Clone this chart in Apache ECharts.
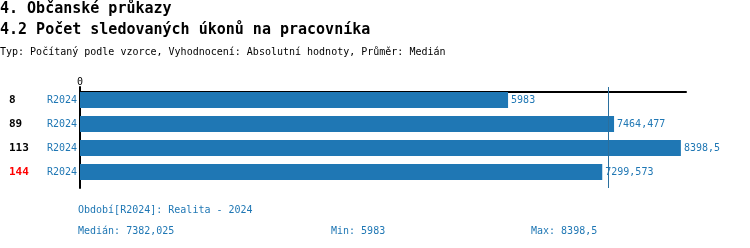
<!DOCTYPE html>
<html>
<head>
<meta charset="utf-8">
<script src="https://cdn.jsdelivr.net/npm/echarts@6/dist/echarts.min.js"></script>
<style>
html,body{margin:0;padding:0;background:#fff;}
#c{width:750px;height:248px;}
</style>
</head>
<body>
<div id="c"></div>
<script>
const titleMain = "4. Občanské průkazy";
const titleSub = "4.2 Počet sledovaných úkonů na pracovníka";
const typeLine = "Typ: Počítaný podle vzorce, Vyhodnocení: Absolutní hodnoty, Průměr: Medián";
const periodLine = "Období[R2024]: Realita - 2024";
const categories = ["8", "89", "113", "144"];
const periods = ["R2024", "R2024", "R2024", "R2024"];
const values = [5983, 7464.477, 8398.5, 7299.573];
const highlighted = ["144"];
const axisMax = 8470;

const FONT = '"DejaVu Sans Mono", monospace';
const BLUE = '#1f77b4';

function fmt(v) { return String(Math.round(v * 1000) / 1000).replace('.', ','); }
const sorted = values.slice().sort((a, b) => a - b);
const mid = sorted.length / 2;
const median = sorted.length % 2 ? sorted[Math.floor(mid)] : (sorted[mid - 1] + sorted[mid]) / 2;
const vMin = sorted[0], vMax = sorted[sorted.length - 1];

function txt(text, left, top, size, color, weight) {
  return {text: text, left: left, top: top, padding: 0,
    textStyle: {fontFamily: FONT, fontSize: size, fontWeight: weight || 'normal', color: color}};
}

const chart = echarts.init(document.getElementById('c'), null, {renderer: 'canvas'});
chart.setOption({
  animation: false,
  textStyle: {fontFamily: FONT},
  title: [
    txt(titleMain, 0, 2, 15, '#000', 'bold'),
    txt(titleSub, 0, 23, 15, '#000', 'bold'),
    txt(typeLine, 0, 47, 10, '#000'),
    txt(periodLine, 78, 205, 10, BLUE),
    txt('Medián: ' + fmt(median), 78, 226, 10, BLUE),
    txt('Min: ' + fmt(vMin), 331, 226, 10, BLUE),
    txt('Max: ' + fmt(vMax), 531, 226, 10, BLUE)
  ],
  grid: [
    {left: 80, top: 88, width: 606, height: 96, containLabel: false},
    {left: 80, top: 87, width: 606, height: 101, containLabel: false}
  ],
  xAxis: [{
    gridIndex: 0, type: 'value', position: 'top', offset: -4, min: 0, max: axisMax, interval: axisMax,
    axisLine: {show: true, lineStyle: {color: '#000', width: 2}},
    axisTick: {show: false},
    splitLine: {show: false},
    axisLabel: {show: true, margin: 5, fontFamily: FONT, fontSize: 10, color: '#000', showMaxLabel: false,
      formatter: v => v === 0 ? '0' : ''}
  }, {
    gridIndex: 1, type: 'value', min: 0, max: axisMax, show: false
  }],
  yAxis: [{
    gridIndex: 0, type: 'category', inverse: true, data: categories,
    axisLine: {show: false},
    axisTick: {show: false},
    axisLabel: {
      margin: 3,
      formatter: (v, i) => '{' + (highlighted.includes(v) ? 'h' : 'n') + '|' + v + '}{r|' + periods[i] + '}',
      rich: {
        n: {width: 38, align: 'left', fontFamily: FONT, fontSize: 11, fontWeight: 'bold', color: '#000'},
        h: {width: 38, align: 'left', fontFamily: FONT, fontSize: 11, fontWeight: 'bold', color: '#ff0000'},
        r: {fontFamily: FONT, fontSize: 10, color: BLUE}
      }
    }
  }, {
    gridIndex: 1, type: 'value', min: 0, max: 1,
    axisLine: {show: true, onZero: false, lineStyle: {color: '#000', width: 2}},
    axisTick: {show: false}, axisLabel: {show: false}, splitLine: {show: false}
  }],
  series: [{
    type: 'bar', xAxisIndex: 0, yAxisIndex: 0, data: values, barWidth: 16,
    itemStyle: {color: BLUE},
    label: {show: true, position: 'right', distance: 3, fontFamily: FONT, fontSize: 10, color: BLUE,
      formatter: p => fmt(p.value)}
  }, {
    type: 'scatter', xAxisIndex: 1, yAxisIndex: 1, data: [], silent: true,
    markLine: {
      silent: true, symbol: 'none', label: {show: false},
      lineStyle: {color: '#2a6f9e', width: 1, type: 'solid'},
      data: [{xAxis: median}]
    }
  }]
});
</script>
</body>
</html>
